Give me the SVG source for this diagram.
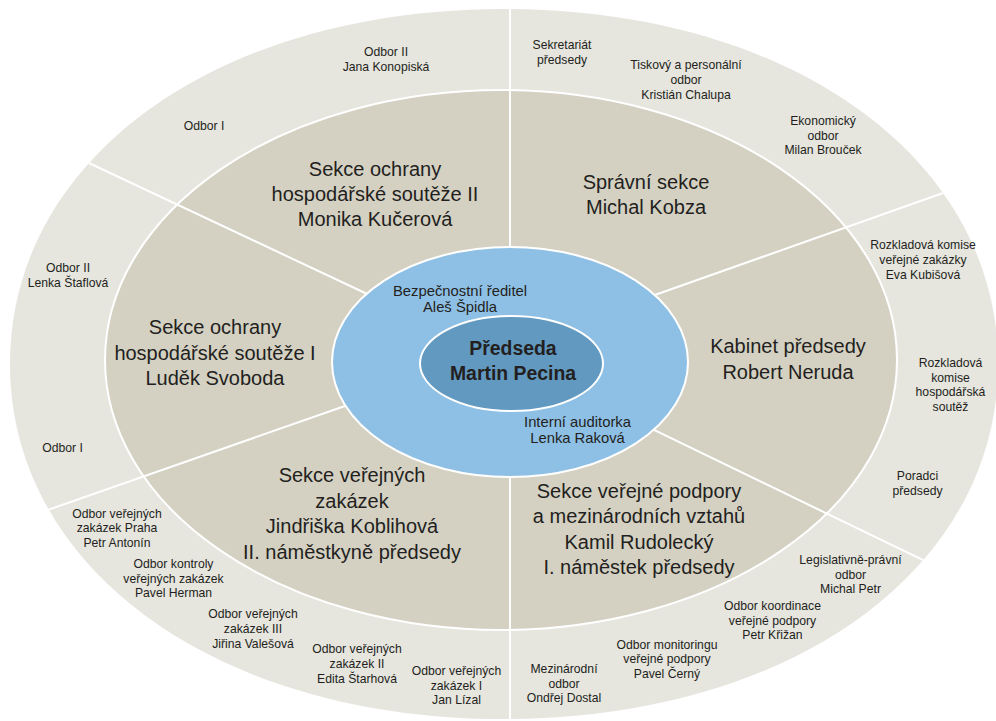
<svg xmlns="http://www.w3.org/2000/svg" width="996" height="721" viewBox="0 0 996 721">
<style>
text{font-family:"Liberation Sans",Arial,sans-serif;fill:#231f20;text-anchor:middle}
.big{font-size:20px}
.med{font-size:14.8px}
.sm{font-size:12.2px}
.boss{font-size:19.4px;font-weight:bold}
.div{stroke:#fff;stroke-width:2;fill:none}
</style>
<defs>
<clipPath id="outerClip"><path d="M998,364 C998,569.9 790.5,719 504,719 C217.5,719 10,569.9 10,364 C10,158.1 217.5,9 504,9 C790.5,9 998,158.1 998,364 Z"/></clipPath>
</defs>
<rect width="996" height="721" fill="#fff"/>
<g id="rings">
<path d="M998,364 C998,569.9 790.5,719 504,719 C217.5,719 10,569.9 10,364 C10,158.1 217.5,9 504,9 C790.5,9 998,158.1 998,364 Z" fill="#e6e5de"/>
<ellipse cx="501" cy="360" rx="396" ry="270" fill="#d4d1c3" stroke="#fff" stroke-width="2"/>
</g>
<g id="connectors" clip-path="url(#outerClip)">
<line class="div" x1="510" y1="0" x2="510" y2="721"/>
<line class="div" x1="380" y1="300" x2="40" y2="140"/>
<line class="div" x1="640" y1="300.3" x2="1000" y2="172.9"/>
<line class="div" x1="360" y1="400.7" x2="20" y2="519.7"/>
<line class="div" x1="640" y1="423.2" x2="990" y2="592.5"/>
</g>
<g id="center-ring">
<ellipse cx="510" cy="362" rx="178" ry="115" fill="#8ec0e6" stroke="#fff" stroke-width="2"/>
</g>
<g id="predseda">
<ellipse cx="511.5" cy="363.5" rx="91.5" ry="47.5" fill="#6299c0" stroke="#fff" stroke-width="2"/>
<text class="boss" x="513" y="355">Předseda</text>
<text class="boss" x="513" y="380">Martin Pecina</text>
</g>
<g id="bezpecnostni">
<text class="med" x="460" y="296">Bezpečnostní ředitel</text>
<text class="med" x="460" y="311.5">Aleš Špidla</text>
</g>
<g id="auditorka">
<text class="med" x="577.5" y="427.3">Interní auditorka</text>
<text class="med" x="577.5" y="442.7">Lenka Raková</text>
</g>
<g id="sekce-ohs2">
<text class="big" x="375" y="176">Sekce ochrany</text>
<text class="big" x="375" y="201">hospodářské soutěže II</text>
<text class="big" x="375" y="226">Monika Kučerová</text>
</g>
<g id="spravni">
<text class="big" x="646" y="189">Správní sekce</text>
<text class="big" x="646" y="214">Michal Kobza</text>
</g>
<g id="sekce-ohs1">
<text class="big" x="215" y="334">Sekce ochrany</text>
<text class="big" x="215" y="359.5">hospodářské soutěže I</text>
<text class="big" x="215" y="385">Luděk Svoboda</text>
</g>
<g id="kabinet">
<text class="big" x="788" y="353">Kabinet předsedy</text>
<text class="big" x="788" y="379">Robert Neruda</text>
</g>
<g id="sekce-vz">
<text class="big" x="352" y="482">Sekce veřejných</text>
<text class="big" x="352" y="507.5">zakázek</text>
<text class="big" x="352" y="533">Jindřiška Koblihová</text>
<text class="big" x="352" y="559">II. náměstkyně předsedy</text>
</g>
<g id="sekce-vp">
<text class="big" x="639" y="498">Sekce veřejné podpory</text>
<text class="big" x="639" y="523">a mezinárodních vztahů</text>
<text class="big" x="639" y="548.5">Kamil Rudolecký</text>
<text class="big" x="639" y="574">I. náměstek předsedy</text>
</g>
<g id="odbor2-konopiska">
<text class="sm" x="386" y="56">Odbor II</text>
<text class="sm" x="386" y="70.5">Jana Konopiská</text>
</g>
<g id="odbor1-top">
<text class="sm" x="204" y="130">Odbor I</text>
</g>
<g id="sekretariat">
<text class="sm" x="562" y="49">Sekretariát</text>
<text class="sm" x="562" y="63.5">předsedy</text>
</g>
<g id="tiskovy">
<text class="sm" x="686" y="69">Tiskový a personální</text>
<text class="sm" x="686" y="83.5">odbor</text>
<text class="sm" x="686" y="98.5">Kristián Chalupa</text>
</g>
<g id="ekonomicky">
<text class="sm" x="823" y="125">Ekonomický</text>
<text class="sm" x="823" y="139.5">odbor</text>
<text class="sm" x="823" y="154">Milan Brouček</text>
</g>
<g id="rk-vz">
<text class="sm" x="923" y="249.3">Rozkladová komise</text>
<text class="sm" x="923" y="264.3">veřejné zakázky</text>
<text class="sm" x="923" y="279">Eva Kubišová</text>
</g>
<g id="rk-hs">
<text class="sm" x="950.5" y="366.7">Rozkladová</text>
<text class="sm" x="950.5" y="381.5">komise</text>
<text class="sm" x="950.5" y="396.3">hospodářská</text>
<text class="sm" x="950.5" y="411">soutěž</text>
</g>
<g id="poradci">
<text class="sm" x="917.5" y="480">Poradci</text>
<text class="sm" x="917.5" y="495">předsedy</text>
</g>
<g id="legislativne">
<text class="sm" x="850.5" y="564">Legislativně-právní</text>
<text class="sm" x="850.5" y="578.7">odbor</text>
<text class="sm" x="850.5" y="593.3">Michal Petr</text>
</g>
<g id="koordinace">
<text class="sm" x="772.5" y="610">Odbor koordinace</text>
<text class="sm" x="772.5" y="624.5">veřejné podpory</text>
<text class="sm" x="772.5" y="639">Petr Křižan</text>
</g>
<g id="monitoring">
<text class="sm" x="667" y="648.5">Odbor monitoringu</text>
<text class="sm" x="667" y="663">veřejné podpory</text>
<text class="sm" x="667" y="677.7">Pavel Černý</text>
</g>
<g id="mezinarodni">
<text class="sm" x="564" y="673.3">Mezinárodní</text>
<text class="sm" x="564" y="687.8">odbor</text>
<text class="sm" x="564" y="702.3">Ondřej Dostal</text>
</g>
<g id="ovz1">
<text class="sm" x="456.5" y="675">Odbor veřejných</text>
<text class="sm" x="456.5" y="689.5">zakázek I</text>
<text class="sm" x="456.5" y="704">Jan Lízal</text>
</g>
<g id="ovz2">
<text class="sm" x="357" y="653.3">Odbor veřejných</text>
<text class="sm" x="357" y="668">zakázek II</text>
<text class="sm" x="357" y="682.7">Edita Štarhová</text>
</g>
<g id="ovz3">
<text class="sm" x="253" y="618.3">Odbor veřejných</text>
<text class="sm" x="253" y="633">zakázek III</text>
<text class="sm" x="253" y="647.5">Jiřina Valešová</text>
</g>
<g id="kontroly">
<text class="sm" x="173.5" y="568.3">Odbor kontroly</text>
<text class="sm" x="173.5" y="582.8">veřejných zakázek</text>
<text class="sm" x="173.5" y="597.3">Pavel Herman</text>
</g>
<g id="ovz-praha">
<text class="sm" x="117" y="517.7">Odbor veřejných</text>
<text class="sm" x="117" y="532.3">zakázek Praha</text>
<text class="sm" x="117" y="546.8">Petr Antonín</text>
</g>
<g id="odbor1-left">
<text class="sm" x="62.5" y="451.7">Odbor I</text>
</g>
<g id="odbor2-staflova">
<text class="sm" x="68" y="271.7">Odbor II</text>
<text class="sm" x="68" y="287.3">Lenka Štaflová</text>
</g>
</svg>
